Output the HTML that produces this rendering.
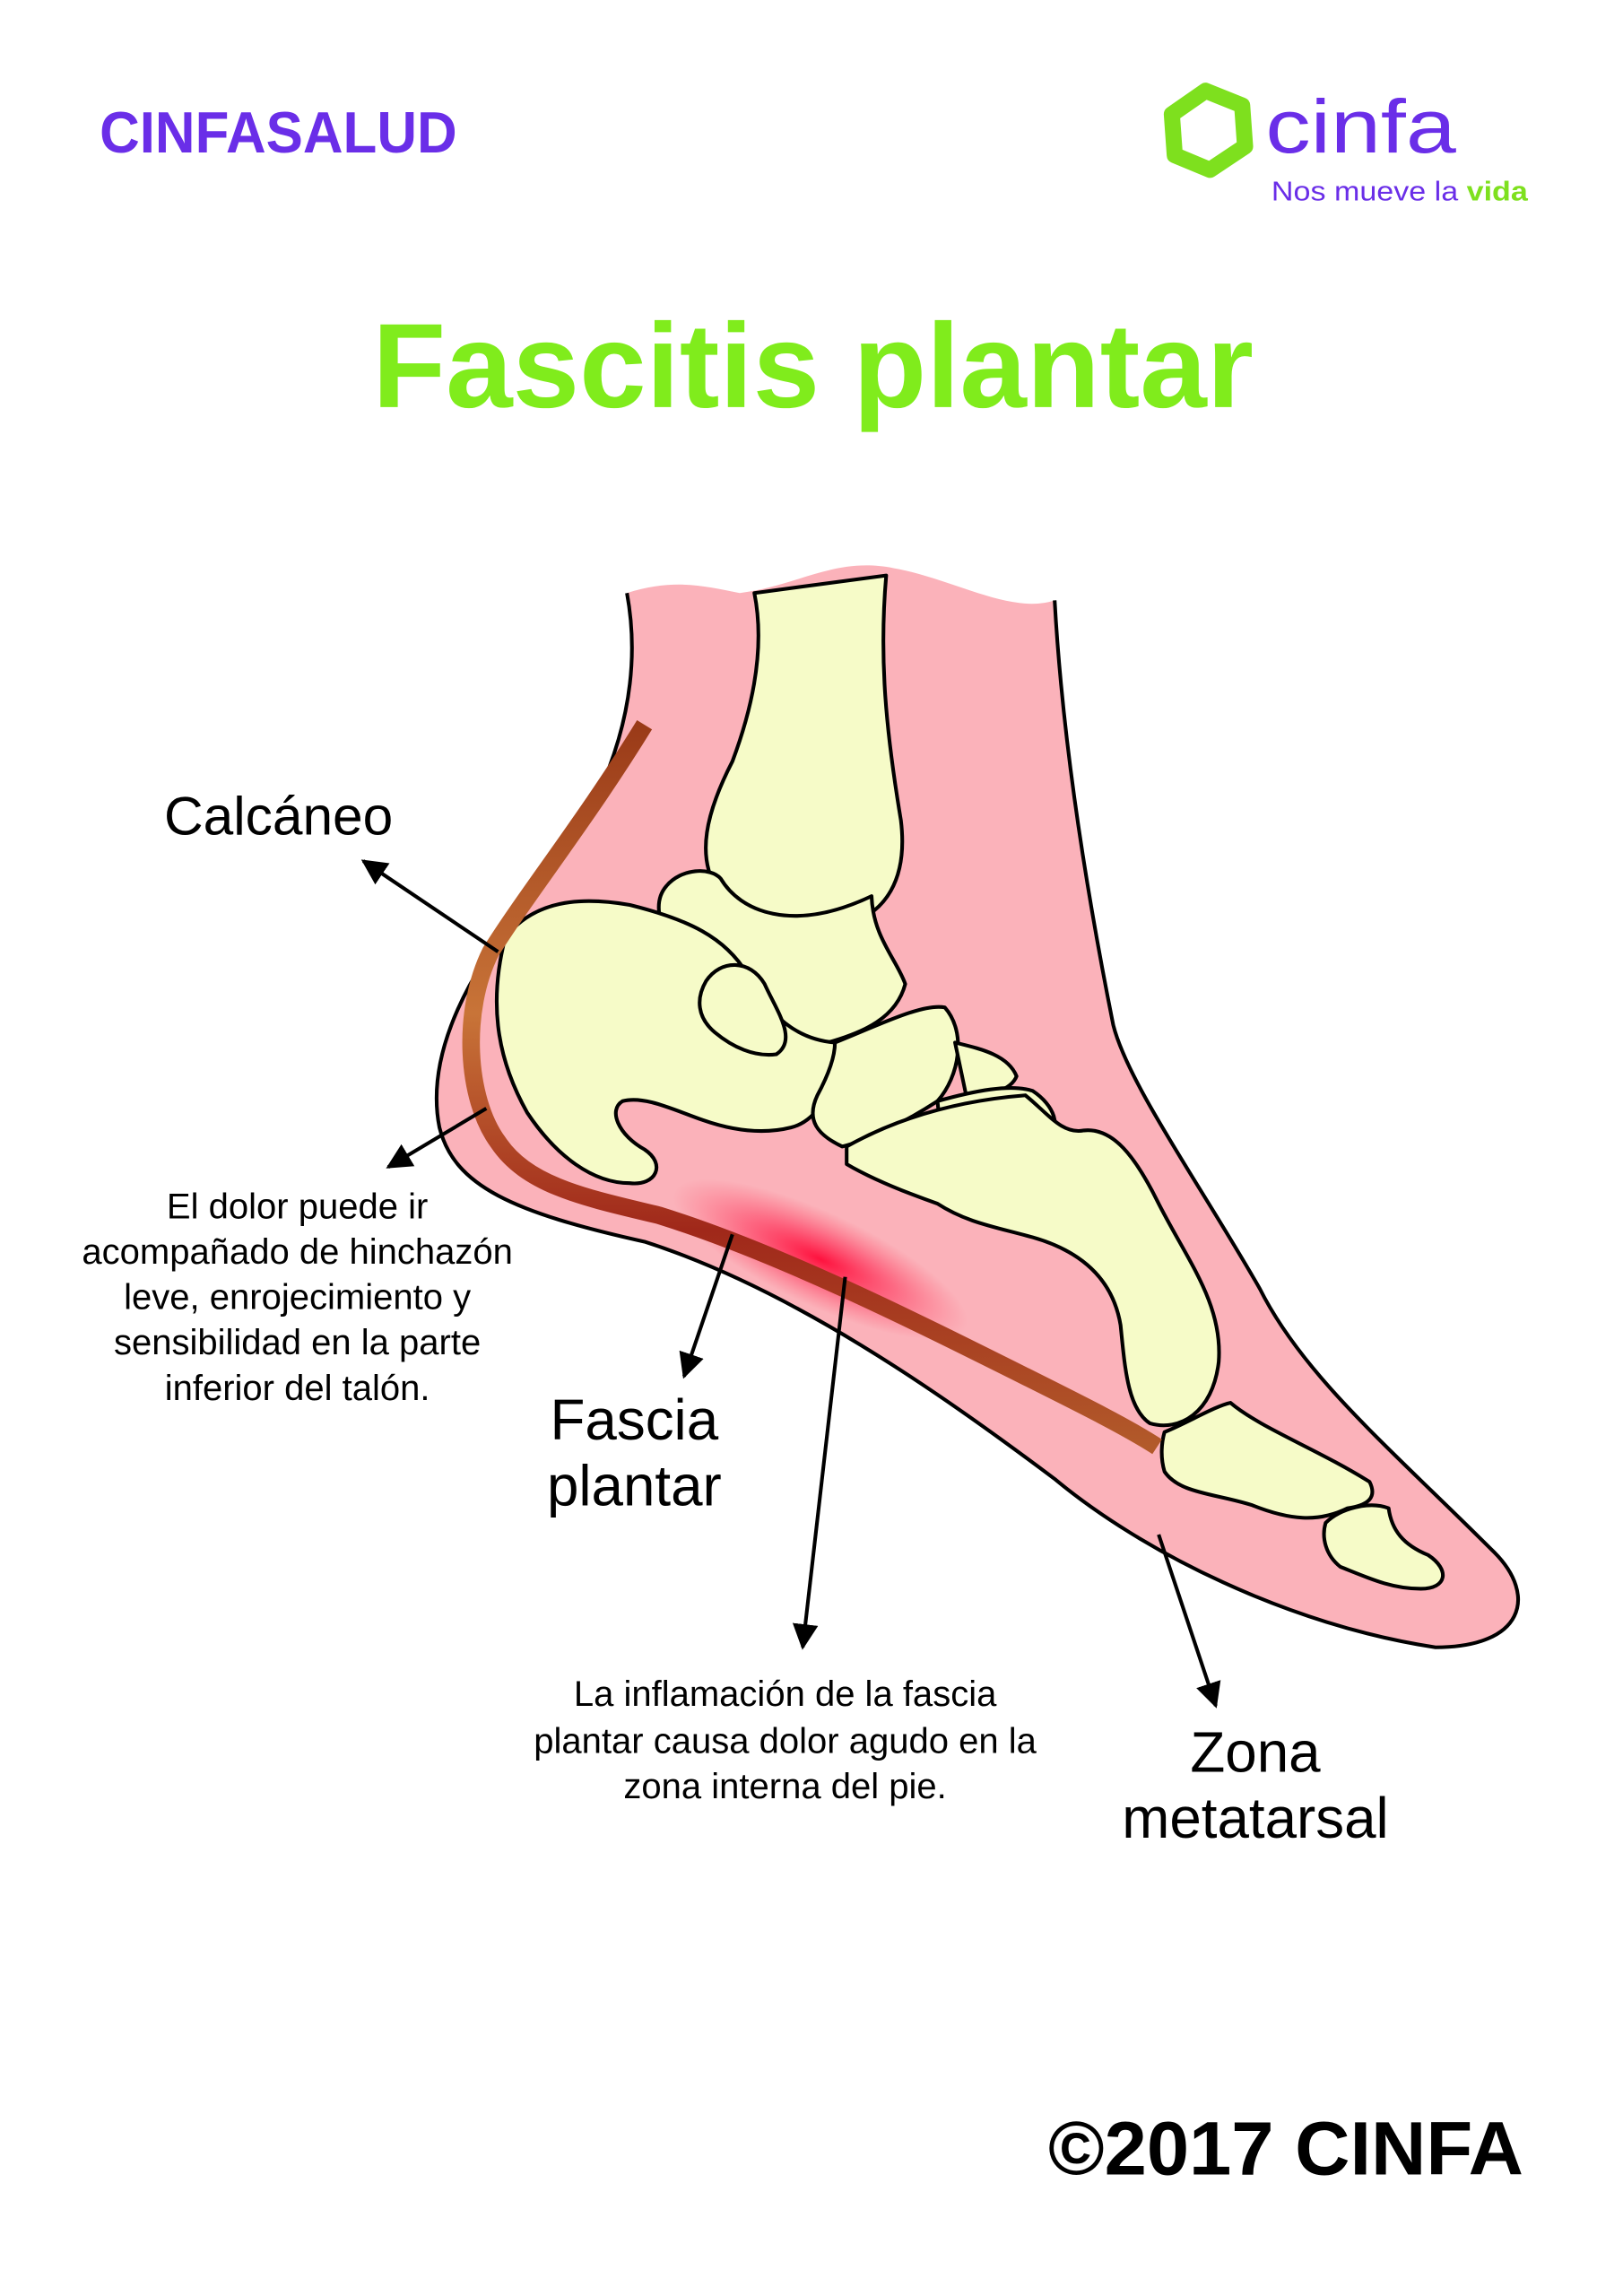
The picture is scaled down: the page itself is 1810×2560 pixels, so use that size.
<!DOCTYPE html>
<html><head><meta charset="utf-8"><style>
html,body{margin:0;padding:0;background:#fff;}
svg{display:block;}
text{font-family:"Liberation Sans",sans-serif;}
</style></head><body>
<svg width="1810" height="2560" viewBox="0 0 1108 1568" preserveAspectRatio="none" xmlns="http://www.w3.org/2000/svg">
<defs>
<radialGradient id="glow" cx="0.5" cy="0.5" r="0.5">
<stop offset="0" stop-color="#ff0030" stop-opacity="0.9"/>
<stop offset="0.5" stop-color="#ff1040" stop-opacity="0.45"/>
<stop offset="1" stop-color="#ff3050" stop-opacity="0"/>
</radialGradient>
<linearGradient id="fas" x1="0" y1="0" x2="0" y2="1">
<stop offset="0" stop-color="#9a3a18"/>
<stop offset="0.4" stop-color="#c87438"/>
<stop offset="0.7" stop-color="#a0281a"/>
<stop offset="1" stop-color="#b25a2a"/>
</linearGradient>
<marker id="ah" viewBox="0 0 10 10" refX="9" refY="5" markerWidth="7" markerHeight="7" orient="auto">
<path d="M0,0 L10,5 L0,10 z" fill="#000"/>
</marker>
</defs>

<text x="68" y="104" font-size="40" font-weight="bold" fill="#6a2ee8" textLength="244" lengthAdjust="spacingAndGlyphs">CINFASALUD</text>
<path d="M823,62 L848,72 L850,100 L826,116 L802,106 L800,78 z" fill="none" stroke="#7ee01e" stroke-width="11" stroke-linejoin="round"/>
<text x="864" y="104" font-size="52" fill="#6a2ee8" textLength="130" lengthAdjust="spacingAndGlyphs">cinfa</text>
<text x="868" y="137" font-size="19" fill="#6a2ee8" textLength="175" lengthAdjust="spacingAndGlyphs">Nos mueve la <tspan fill="#7ee01e" font-weight="bold">vida</tspan></text>

<text x="555" y="278" font-size="82" font-weight="bold" fill="#80ec1c" text-anchor="middle">Fascitis plantar</text>

<path d="M428,405 C440,470 420,540 370,605 C320,660 290,720 300,770 C310,810 350,828 440,848 C540,880 640,950 720,1010 C780,1060 880,1110 980,1125 C1040,1125 1050,1090 1020,1060 C950,990 890,940 860,880 C820,810 770,740 760,700 C740,600 725,500 720,410 C690,420 650,395 610,388 C570,380 545,400 505,405 C480,400 460,395 428,405 z" fill="#fbb2ba" stroke="none"/>
<path d="M428,405 C440,470 420,540 370,605 C320,660 290,720 300,770 C310,810 350,828 440,848 C540,880 640,950 720,1010 C780,1060 880,1110 980,1125 C1040,1125 1050,1090 1020,1060 C950,990 890,940 860,880 C820,810 770,740 760,700 C740,600 725,500 720,410" fill="none" stroke="#000" stroke-width="2.5"/>

<g fill="#f6fbc8" stroke="#000" stroke-width="2.5" stroke-linejoin="round">
<path d="M515,405 L605,393 C600,450 605,500 615,560 C620,600 605,625 575,632 C545,640 510,632 490,608 C475,585 482,555 500,520 C515,480 522,440 515,405 z"/>
<path d="M455,605 C465,593 485,592 492,600 C505,622 540,638 595,612 C596,640 612,655 618,672 C612,695 590,705 565,712 C545,716 525,705 508,680 C490,652 475,645 455,638 C448,625 448,613 455,605 z"/>
<path d="M345,640 C365,615 395,612 430,618 C470,628 495,640 510,665 C525,695 545,710 570,712 C572,740 560,765 540,770 C520,775 500,772 480,765 C460,758 440,748 425,752 C415,758 422,775 440,785 C455,795 448,810 430,808 C405,808 380,790 360,760 C342,728 332,690 345,640 z"/>
<path d="M482,670 C492,655 512,655 522,672 C530,690 545,710 530,720 C515,722 500,715 488,705 C476,695 475,682 482,670 z"/>
<path d="M570,712 C600,700 630,685 645,688 C660,705 655,735 640,752 C620,765 595,778 575,783 C558,775 550,765 558,748 C565,735 570,722 570,712 z"/>
<path d="M652,712 C668,716 688,720 694,735 C690,745 675,748 660,750 z"/>
<path d="M640,752 C665,745 690,740 705,745 C720,755 725,770 715,778 C690,785 665,795 645,800 z"/>
<path d="M578,783 C610,765 650,752 700,748 C715,760 725,775 740,772 C760,770 775,790 790,820 C810,860 835,890 832,930 C828,965 805,978 785,972 C770,962 768,935 765,905 C760,875 740,855 705,845 C680,838 660,835 640,822 C620,815 595,805 578,795 z"/>
<path d="M795,978 C810,972 830,960 840,958 C860,975 900,990 935,1012 C940,1022 935,1028 920,1030 C900,1040 880,1038 855,1028 C830,1020 805,1020 795,1005 C792,995 793,985 795,978 z"/>
<path d="M905,1040 C915,1030 935,1025 948,1030 C950,1045 958,1055 975,1062 C990,1072 988,1085 970,1085 C950,1085 935,1078 915,1070 C905,1062 902,1050 905,1040 z"/>
</g>

<ellipse cx="560" cy="860" rx="110" ry="32" transform="rotate(25 560 860)" fill="url(#glow)"/>
<path d="M440,495 C400,560 360,610 335,650 C315,690 318,750 340,780 C360,810 400,818 450,830 C530,855 620,900 700,940 C740,960 770,975 790,988" fill="none" stroke="url(#fas)" stroke-width="12"/>

<g stroke="#000" stroke-width="2.5" marker-end="url(#ah)">
<line x1="340" y1="650" x2="248" y2="588"/>
<line x1="332" y1="757" x2="265" y2="797"/>
<line x1="500" y1="843" x2="467" y2="940"/>
<line x1="577" y1="872" x2="548" y2="1125"/>
<line x1="791" y1="1048" x2="830" y2="1165"/>
</g>

<g fill="#000">
<text x="112" y="570" font-size="37">Calcáneo</text>
<g font-size="24.5" text-anchor="middle">
<text x="203" y="832">El dolor puede ir</text>
<text x="203" y="863">acompañado de hinchazón</text>
<text x="203" y="894">leve, enrojecimiento y</text>
<text x="203" y="925">sensibilidad en la parte</text>
<text x="203" y="956">inferior del talón.</text>
<text x="536" y="1165">La inflamación de la fascia</text>
<text x="536" y="1197">plantar causa dolor agudo en la</text>
<text x="536" y="1228">zona interna del pie.</text>
</g>
<g font-size="39" text-anchor="middle">
<text x="433" y="983">Fascia</text>
<text x="433" y="1028">plantar</text>
<text x="857" y="1210">Zona</text>
<text x="857" y="1255">metatarsal</text>
</g>
<text x="1040" y="1485" font-size="52" font-weight="bold" text-anchor="end">©2017 CINFA</text>
</g>
</svg>
</body></html>
